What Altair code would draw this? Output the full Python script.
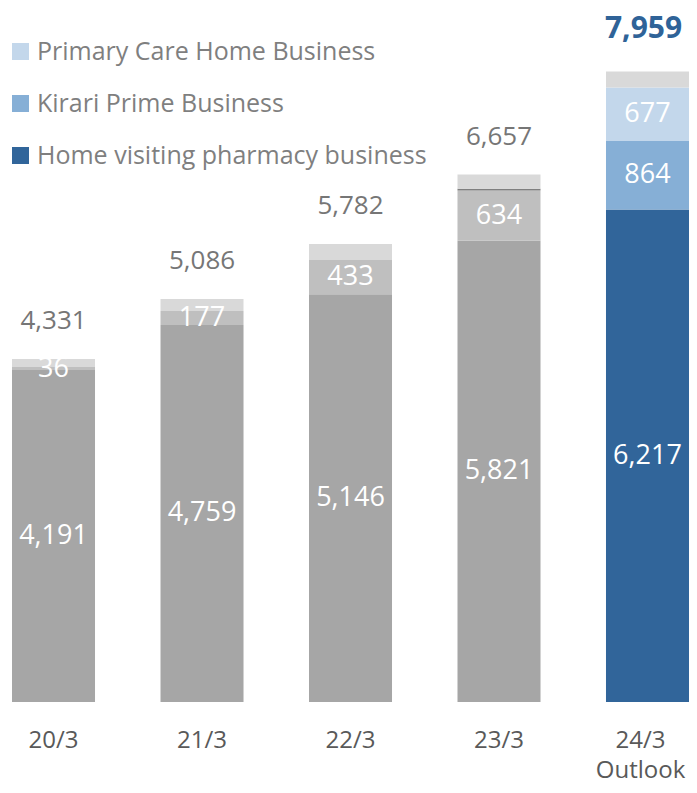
import altair as alt
import pandas as pd

years = ["20/3", "21/3", "22/3", "23/3", "24/3"]
home = [4191, 4759, 5146, 5821, 6217]
kirari = [36, 177, 433, 634, 864]
primary = [0, 0, 0, 25, 677]
other = [104, 150, 203, 177, 201]
totals = [4331, 5086, 5782, 6657, 7959]

seg_names = ["Home visiting pharmacy business", "Kirari Prime Business",
             "Primary Care Home Business", "Other"]
series = [home, kirari, primary, other]

rows = []
for i, yr in enumerate(years):
    base = 0
    for k, (name, vals) in enumerate(zip(seg_names, series)):
        v = vals[i]
        outlook = yr == "24/3"
        if name == "Other":
            key = "other"
        elif outlook:
            key = name
        else:
            key = "gray " + name
        rows.append(dict(year=yr, seg=name, key=key, value=v, lo=base, hi=base + v,
                         mid=base + v / 2,
                         show=(name != "Other" and v > 30)))
        base += v
df = pd.DataFrame(rows)
tot = pd.DataFrame(dict(year=years, total=totals, big=[y == "24/3" for y in years]))

FONT = "Open Sans"
domain = ["gray " + seg_names[0], "gray " + seg_names[1], "gray " + seg_names[2], "other",
          seg_names[0], seg_names[1], seg_names[2]]
rng = ["#a6a6a6", "#bfbfbf", "#7f7f7f", "#d9d9d9", "#31659a", "#86afd6", "#c3d7eb"]

x = alt.X("year:N", sort=years, title=None,
          scale=alt.Scale(paddingInner=0.441, paddingOuter=0.0135, align=1, round=False),
          axis=alt.Axis(labelAngle=0, domain=False, ticks=False, labelPadding=26,
                        labelFontSize=24, labelColor="#595959", labelFont=FONT,
                        labelLineHeight=30,
                        labelOffset={"condition": {"test": "datum.value === '24/3'", "value": -7},
                                     "value": 0},
                        labelExpr="datum.value == '24/3' ? ['24/3', 'Outlook'] : datum.value"))
yscale = alt.Scale(domain=[0, 8760], nice=False, zero=True)

bars = alt.Chart(df).mark_bar().encode(
    x=x,
    y=alt.Y("lo:Q", scale=yscale, axis=None),
    y2="hi:Q",
    color=alt.Color("key:N", scale=alt.Scale(domain=domain, range=rng),
                    legend=alt.Legend(values=[seg_names[2], seg_names[1], seg_names[0]],
                                      title=None, orient="none", legendX=0, legendY=31,
                                      symbolType="square", symbolSize=289,
                                      symbolStrokeWidth=0, symbolOpacity=1,
                                      labelFontSize=25, labelColor="#7f7f7f",
                                      labelFont=FONT, rowPadding=26, labelOffset=4,
                                      labelLimit=500)),
)

inner = alt.Chart(df).transform_filter("datum.show").mark_text(
    color="white", fontSize=27, font=FONT, baseline="middle"
).encode(
    x=alt.X("year:N", sort=years),
    y=alt.Y("mid:Q", scale=yscale),
    text=alt.Text("value:Q", format=","),
)

tot_small = alt.Chart(tot).transform_filter("!datum.big").mark_text(
    color="#767676", fontSize=26, font=FONT, baseline="middle", dy=-38
).encode(
    x=alt.X("year:N", sort=years),
    y=alt.Y("total:Q", scale=yscale),
    text=alt.Text("total:Q", format=","),
)
tot_big = alt.Chart(tot).transform_filter("datum.big").mark_text(
    color="#2f6398", fontSize=30, font=FONT, fontWeight="bold", baseline="middle",
    dy=-42, dx=-4
).encode(
    x=alt.X("year:N", sort=years),
    y=alt.Y("total:Q", scale=yscale),
    text=alt.Text("total:Q", format=","),
)

chart = alt.layer(bars, inner, tot_small, tot_big).properties(
    width=681, height=694,
    padding={"left": 0, "top": 0, "right": 0, "bottom": 80},
    autosize=alt.AutoSizeParams(type="none")
).configure_view(stroke=None)

chart.save("out.html", embed_options={"renderer": "svg", "actions": False})
